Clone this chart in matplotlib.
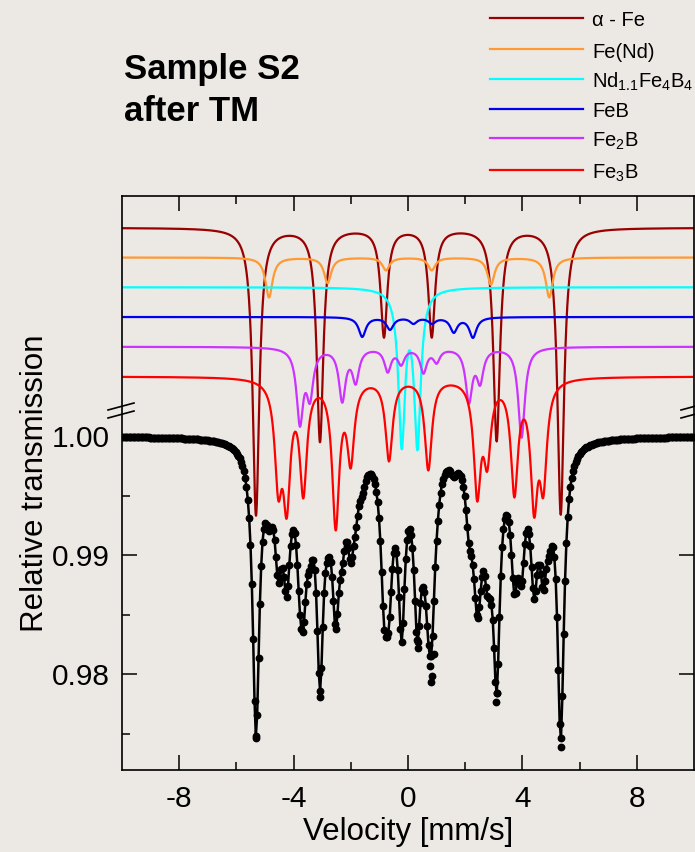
import numpy as np
import matplotlib
matplotlib.use('Agg')
import matplotlib.pyplot as plt
from matplotlib.lines import Line2D

plt.rcParams['font.family'] = ['Liberation Sans', 'DejaVu Sans']
plt.rcParams['mathtext.default'] = 'regular'
plt.rcParams['axes.unicode_minus'] = False

# sub-spectra: line positions [mm/s] and dip depths
names = ['α - Fe', 'Fe(Nd)', 'Nd$_{1.1}$Fe$_4$B$_4$', 'FeB', 'Fe$_2$B', 'Fe$_3$B']
colors = ['#990000', '#FF9933', '#00FFFF', '#0000EE', '#CC33FF', '#FF0000']
offsets = [0.0175, 0.0150, 0.0125, 0.0100, 0.0075, 0.0050]
widths = [0.28, 0.30, 0.28, 0.30, 0.28, 0.30]

afe_pos = [-5.315, -3.077, -0.84, 0.83, 3.10, 5.34]
afe_depth = [0.02420, 0.01803, 0.00924, 0.00924, 0.01796, 0.02412]

fend_pos = [-4.86, -2.81, -0.77, 0.83, 2.90, 4.94]
fend_depth = [0.00336, 0.00216, 0.00109, 0.00109, 0.00229, 0.00336]

ndfeb_pos = [-0.22, 0.33]
ndfeb_depth = [0.01361, 0.01370]

feb_pos = [-1.60, -0.63, 0.19, 0.84, 1.60, 2.27]
feb_depth = [0.00168, 0.00109, 0.00059, 0.00059, 0.00134, 0.00176]

fe2b_pos = [-3.78, -3.43, -2.30, -1.83, -0.71, -0.24, 0.54, 1.00, 2.13, 2.52, 3.97]
fe2b_depth = [0.00672, 0.00479, 0.00471, 0.00319, 0.00218, 0.00160,
              0.00227, 0.00143, 0.00479, 0.00328, 0.00765]

fe3b_pos = [-4.535, -4.241, -3.661, -2.528, -2.003, -0.664,
            0.71, 2.42, 2.77, 3.72, 4.41, 4.73]
fe3b_depth = [0.01042, 0.01193, 0.01025, 0.01294, 0.00773, 0.00714,
              0.00790, 0.01050, 0.00798, 0.01017, 0.01185, 0.01017]

# measured points that sit off the fitted curve
outlier_v = [-5.33, -3.08, 0.30, 0.36, 0.77, 0.80, 0.85, 0.90, 3.08, 3.11, 5.35]
outlier_t = [0.97465, 0.97809, 0.98286, 0.98216, 0.98067, 0.97935,
             0.97986, 0.98166, 0.97765, 0.97838, 0.97389]

all_pos = [afe_pos, fend_pos, ndfeb_pos, feb_pos, fe2b_pos, fe3b_pos]
all_depth = [afe_depth, fend_depth, ndfeb_depth, feb_depth, fe2b_depth, fe3b_depth]


def lor(v, p, g):
    return 1.0 / (1.0 + ((v - p) / (g / 2.0)) ** 2)


def absorption(v, pos, depth, g):
    pos = np.asarray(pos)
    m = lor(pos[:, None], pos[None, :], g)
    amp = np.linalg.solve(m, np.asarray(depth))
    return (amp[None, :] * lor(np.asarray(v)[:, None], pos[None, :], g)).sum(axis=1)


v_fine = np.linspace(-10, 10, 4001)
v_ch = np.arange(-10.0, 10.0001, 0.0468)

bg = '#ECE8E4'
fig = plt.figure(figsize=(6.95, 8.52), dpi=100, facecolor=bg)
ax = fig.add_axes([122 / 695, 1 - 770 / 852, 572 / 695, 574 / 852], facecolor=bg)

fit = np.ones_like(v_ch)
for pos, depth, g, off, col in zip(all_pos, all_depth, widths, offsets, colors):
    ax.plot(v_fine, 1 + off - absorption(v_fine, pos, depth, g), color=col, lw=1.6)
    fit -= absorption(v_ch, pos, depth, g)

ax.plot(v_ch, fit, color='black', lw=1.8)
ax.plot(v_ch, fit, 'o', color='black', ms=4.6)
ax.plot(outlier_v, outlier_t, 'o', color='black', ms=4.6)

ax.set_xlim(-10, 10)
ax.set_ylim(1 - 334 / 11900, 1 + 240 / 11900)
ax.set_xticks([-8, -4, 0, 4, 8])
ax.set_xticks([-6, -2, 2, 6], minor=True)
ax.set_yticks([0.98, 0.99, 1.00])
ax.set_yticklabels(['0.98', '0.99', '1.00'])
ax.set_yticks([0.975, 0.985, 0.995], minor=True)
ax.tick_params(which='both', direction='in', width=1.1, top=True, right=True,
               labelsize=21.5)
ax.tick_params(axis='x', pad=11)
ax.tick_params(axis='y', pad=9)
ax.tick_params(which='major', length=11)
ax.tick_params(which='minor', length=5.5)
ax.tick_params(axis='y', which='minor', right=False)
for s in ax.spines.values():
    s.set_linewidth(1.2)

ax.set_xlabel('Velocity [mm/s]', fontsize=22.5, labelpad=3)
ax.set_ylabel('Relative transmission', fontsize=22.5, labelpad=1)

# axis break marks
for x0 in (108, 681):
    for y0 in (410, 418):
        ax.plot([(x0 - 122) / 572, (x0 + 26 - 122) / 572],
                [(770 - y0) / 574, (770 - y0 + 7) / 574],
                color='black', lw=1.2, transform=ax.transAxes, clip_on=False)

fig.text(124 / 695, 1 - 79 / 852, 'Sample S2', fontsize=25, fontweight='bold', va='baseline')
fig.text(124 / 695, 1 - 121 / 852, 'after TM', fontsize=25, fontweight='bold', va='baseline')

# legend
leg_y = [17.7, 49, 79, 108.7, 138.3, 170]
for name, col, y in zip(names, colors, leg_y):
    fig.add_artist(Line2D([490 / 695, 583 / 695], [1 - y / 852, 1 - y / 852],
                          color=col, lw=1.6, transform=fig.transFigure))
    fig.text(592 / 695, 1 - (y + 8.5) / 852, name, fontsize=14.5, va='baseline')

fig.savefig('out.png', dpi=100, facecolor=bg)
